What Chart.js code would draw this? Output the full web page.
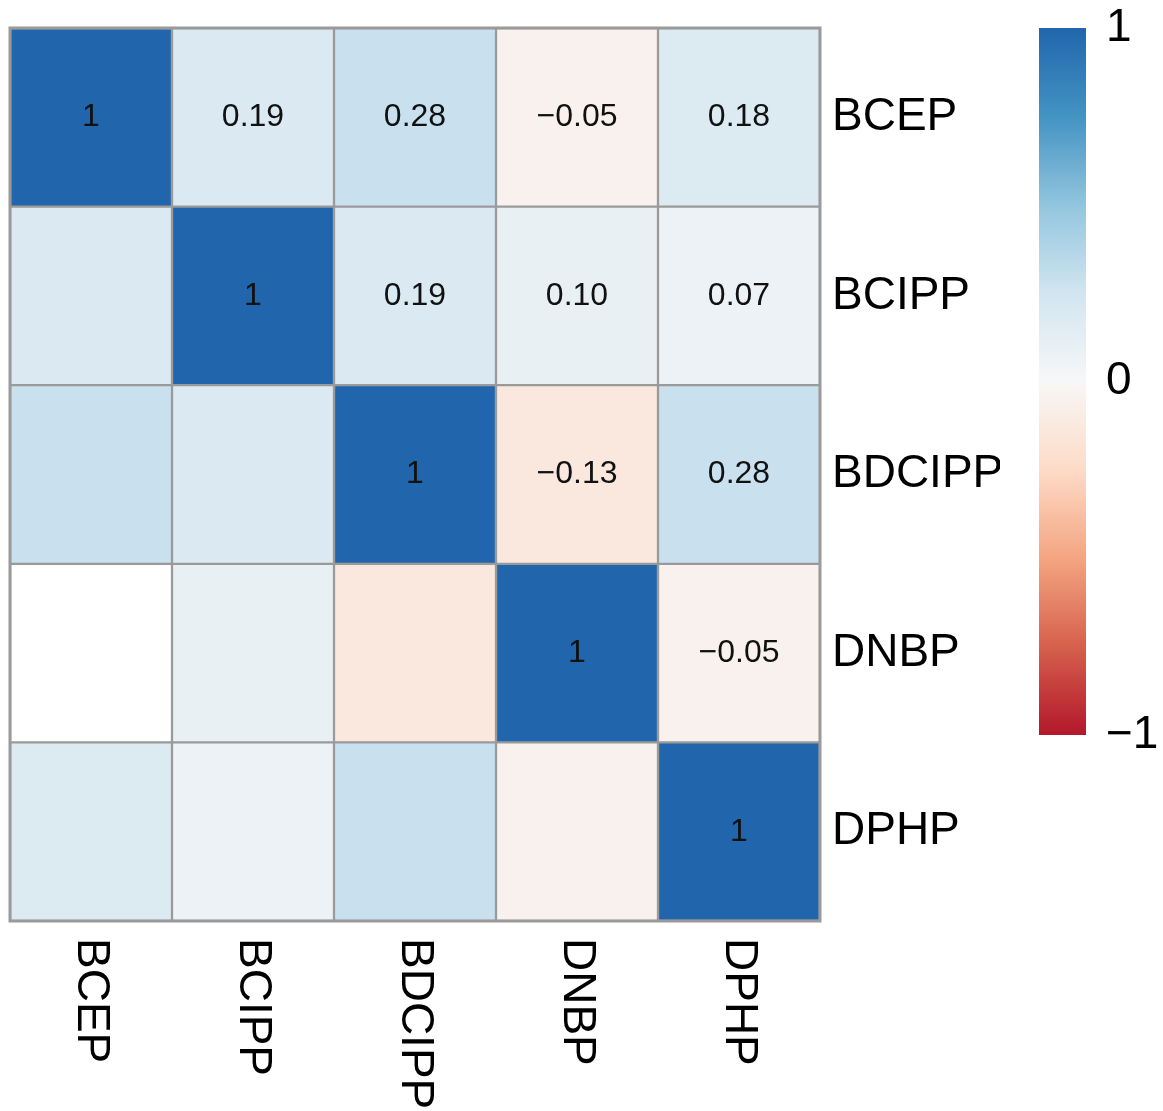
<!DOCTYPE html>
<html>
<head>
<meta charset="utf-8">
<script src="https://cdn.jsdelivr.net/npm/chart.js@4"></script>
<style>
  body { margin: 0; background: #fff; }
  #wrap { position: relative; width: 1163px; height: 1111px; }
  #heat { position: absolute; left: 0; top: 0; }
  #bar { position: absolute; left: 1000px; top: 0; }
</style>
</head>
<body>
<div id="wrap">
  <canvas id="heat" width="1000" height="1111"></canvas>
  <canvas id="bar" width="163" height="1111"></canvas>
</div>
<script>
const vars = ["BCEP", "BCIPP", "BDCIPP", "DNBP", "DPHP"];

// one array per row (upper triangle is labelled)
// null = blank (white) cell
const rowBCEP = [1, 0.19, 0.28, -0.05, 0.18];
const rowBCIPP = [0.19, 1, 0.19, 0.10, 0.07];
const rowBDCIPP = [0.28, 0.19, 1, -0.13, 0.28];
const rowDNBP = [null, 0.10, -0.13, 1, -0.05];
const rowDPHP = [0.18, 0.07, 0.28, -0.05, 1];
const rows = [rowBCEP, rowBCIPP, rowBDCIPP, rowDNBP, rowDPHP];

const scaleTicks = [-1, 0, 1];

const FONT = "'Liberation Sans', Arial, sans-serif";

// RdBu ramp
const stops = [
  [-1, [178, 24, 43]],
  [-0.75, [214, 96, 77]],
  [-0.5, [244, 165, 130]],
  [-0.25, [253, 219, 199]],
  [0, [247, 247, 247]],
  [0.25, [209, 229, 240]],
  [0.5, [146, 197, 222]],
  [0.75, [67, 147, 195]],
  [1, [33, 102, 172]],
];

function colorFor(v) {
  if (v === null) return "#ffffff";
  for (let i = 0; i < stops.length - 1; i++) {
    const [a, ca] = stops[i];
    const [b, cb] = stops[i + 1];
    if (v >= a && v <= b) {
      const t = (v - a) / (b - a);
      const c = ca.map((x, k) => Math.round(x + (cb[k] - x) * t));
      return `rgb(${c[0]},${c[1]},${c[2]})`;
    }
  }
  return "#fff";
}

function fmt(v) {
  if (v === 1) return "1";
  const s = Math.abs(v).toFixed(2);
  return v < 0 ? "\u2212" + s : s;
}

const cellText = {
  id: "cellText",
  afterDatasetsDraw(chart) {
    const ctx = chart.ctx;
    const area = chart.chartArea;
    ctx.save();
    // outer frame
    ctx.strokeStyle = "#9a9a9a";
    ctx.lineWidth = 3;
    ctx.strokeRect(area.left, area.top, area.right - area.left, area.bottom - area.top);
    // numbers in the upper triangle
    ctx.fillStyle = "#111";
    ctx.font = "32px " + FONT;
    ctx.textAlign = "center";
    ctx.textBaseline = "middle";
    rows.forEach((row, i) => {
      const meta = chart.getDatasetMeta(i);
      row.forEach((v, j) => {
        if (j < i || v === null) return;
        const p = meta.data[j].getCenterPoint();
        ctx.fillText(fmt(v), p.x, p.y);
      });
    });
    // rotated column labels
    ctx.fillStyle = "#000";
    ctx.font = "46px " + FONT;
    ctx.textAlign = "left";
    vars.forEach((name, j) => {
      const x = chart.scales.x.getPixelForValue(j);
      ctx.save();
      ctx.translate(x, 938);
      ctx.rotate(Math.PI / 2);
      ctx.fillText(name, 0, 0);
      ctx.restore();
    });
    ctx.restore();
  },
};

new Chart(document.getElementById("heat"), {
  type: "bar",
  data: {
    labels: vars,
    datasets: rows.map((row, i) => ({
      label: vars[i],
      data: row.map(() => 1),
      backgroundColor: row.map(colorFor),
      borderColor: "#9a9a9a",
      borderWidth: 1.5,
      borderSkipped: false,
      barPercentage: 1,
      categoryPercentage: 1,
    })),
  },
  options: {
    responsive: false,
    animation: false,
    layout: { padding: { left: 10, top: 28, bottom: 190, right: 0 } },
    plugins: { legend: { display: false }, tooltip: { enabled: false } },
    scales: {
      x: {
        stacked: true,
        display: false,
      },
      y: {
        stacked: true,
        reverse: true,
        min: 0,
        max: 5,
        position: "right",
        grid: { display: false, drawTicks: false },
        border: { display: false },
        afterBuildTicks: (s) => {
          s.ticks = vars.map((_, i) => ({ value: i + 0.5 }));
        },
        afterFit: (s) => {
          s.width = 180;
          s.paddingTop = 0;
          s.paddingBottom = 0;
        },
        ticks: {
          padding: 12,
          color: "#000",
          font: { family: FONT, size: 46 },
          callback: (v) => vars[Math.floor(v)],
        },
      },
    },
  },
  plugins: [cellText],
});

// colour key
new Chart(document.getElementById("bar"), {
  type: "bar",
  data: {
    labels: [""],
    datasets: [{
      data: [[-1, 1]],
      barPercentage: 1,
      categoryPercentage: 1,
      borderWidth: 0,
      backgroundColor: (c) => {
        const area = c.chart.chartArea;
        if (!area) return "#fff";
        const g = c.chart.ctx.createLinearGradient(0, area.bottom, 0, area.top);
        stops.forEach(([v, col]) => g.addColorStop((v + 1) / 2, `rgb(${col.join(",")})`));
        return g;
      },
    }],
  },
  options: {
    responsive: false,
    animation: false,
    layout: { padding: { left: 39, top: 28, bottom: 376, right: 0 } },
    plugins: { legend: { display: false }, tooltip: { enabled: false } },
    scales: {
      x: { display: false },
      y: {
        min: -1,
        max: 1,
        position: "right",
        grid: { display: false, drawTicks: false },
        border: { display: false },
        afterBuildTicks: (s) => { s.ticks = scaleTicks.map((v) => ({ value: v })); },
        afterFit: (s) => {
          s.width = 77;
          s.paddingTop = 0;
          s.paddingBottom = 0;
        },
        ticks: {
          padding: 20,
          color: "#000",
          font: { family: FONT, size: 46 },
          callback: (v) => (v < 0 ? "\u2212" + Math.abs(v) : String(v)),
        },
      },
    },
  },
});
</script>
</body>
</html>
